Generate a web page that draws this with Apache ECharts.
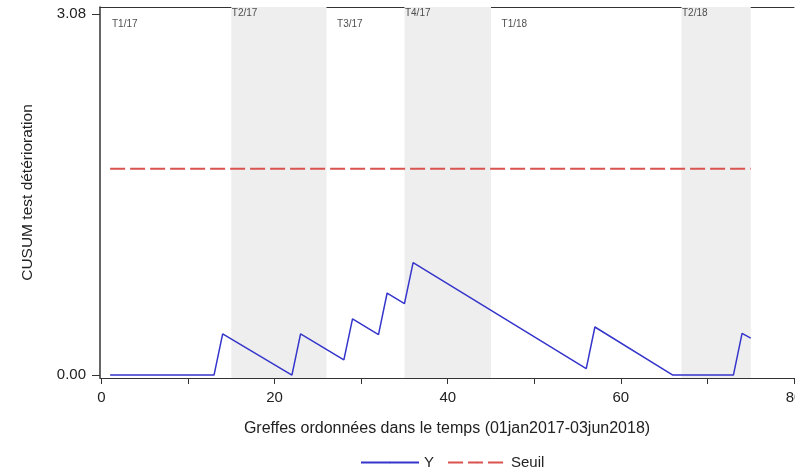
<!DOCTYPE html>
<html>
<head>
<meta charset="utf-8">
<script src="https://cdn.jsdelivr.net/npm/echarts@6/dist/echarts.min.js"></script>
<style>
  html, body { margin: 0; padding: 0; background: #fff; }
  #main { width: 795px; height: 468px; }
</style>
</head>
<body>
<div id="main"></div>
<script>
// CUSUM values at the turning points of the curve (greffe index, value)
const greffeIdx = [1, 13, 14, 22, 23, 28, 29, 32, 33, 35, 36, 56, 57, 66, 73, 74, 75];
const cusumY = [0, 0, 0.352, 0, 0.352, 0.13, 0.48, 0.345, 0.70, 0.61, 0.96, 0.055, 0.41, 0, 0, 0.355, 0.315];

// threshold line
const seuilX = [1, 75];
const seuilY = [1.76, 1.76];

// quarters
const periodLabels = ['T1/17', 'T2/17', 'T3/17', 'T4/17', 'T1/18', 'T2/18'];
const periodStart = [0, 15, 26, 35, 45, 67];
const periodEnd = [15, 26, 35, 45, 67, 75];
const periodShaded = [false, true, false, true, false, true];

const xTicks = [0, 10, 20, 30, 40, 50, 60, 70, 80];
const xTickLabels = [0, 20, 40, 60, 80];
const yTicks = [0, 3.08];

const X_MIN = -0.17, X_MAX = 80;
const Y_MIN = -0.025, Y_MAX = 3.14;
const FONT = 'Liberation Sans, Arial, sans-serif';

const chart = echarts.init(document.getElementById('main'), null, { renderer: 'canvas' });

let bands = [];
let labelPts = [];
for (let i = 0; i < periodLabels.length; i++) {
  if (periodShaded[i]) {
    bands.push([{ xAxis: periodStart[i] }, { xAxis: periodEnd[i] }]);
  }
  labelPts.push({
    value: [periodStart[i], Y_MAX],
    label: { position: periodShaded[i] ? [1, 7] : [11, 18] },
    name: periodLabels[i]
  });
}

const option = {
  animation: false,
  backgroundColor: '#fff',
  grid: {
    left: 100, right: 1, top: 7, bottom: 90,
    containLabel: false,
    outerBoundsMode: 'none'
  },
  legend: {
    data: ['Y', 'Seuil'],
    left: 355, top: 450,
    itemWidth: 58, itemHeight: 2, itemGap: 13,
    textStyle: { fontFamily: FONT, fontSize: 15, color: '#222' }
  },
  xAxis: [
    {
      type: 'value',
      min: X_MIN, max: X_MAX,
      name: 'Greffes ordonnées dans le temps (01jan2017-03jun2018)',
      nameLocation: 'middle', nameGap: 43,
      nameTextStyle: { fontFamily: FONT, fontSize: 16, color: '#222' },
      axisLine: { onZero: false, lineStyle: { color: '#333', width: 1 } },
      axisTick: { customValues: xTicks, length: 6, lineStyle: { color: '#333' } },
      axisLabel: {
        customValues: xTickLabels, margin: 12,
        fontFamily: FONT, fontSize: 15, color: '#222'
      },
      splitLine: { show: false }
    },
    {
      // top frame line only
      type: 'value',
      position: 'top',
      min: X_MIN, max: X_MAX,
      axisLine: { show: true, onZero: false, lineStyle: { color: '#333', width: 1 } },
      axisTick: { show: false },
      axisLabel: { show: false },
      splitLine: { show: false }
    }
  ],
  yAxis: {
    type: 'value',
    min: Y_MIN, max: Y_MAX,
    name: 'CUSUM test détérioration',
    nameLocation: 'middle', nameGap: 64,
    nameTextStyle: { fontFamily: FONT, fontSize: 15.5, color: '#222' },
    axisLine: { show: true, onZero: false, lineStyle: { color: '#333', width: 1.5 } },
    axisTick: { show: true, customValues: yTicks, length: 8, lineStyle: { color: '#333' } },
    axisLabel: {
      customValues: yTicks, margin: 14,
      fontFamily: FONT, fontSize: 15, color: '#222',
      formatter: v => v.toFixed(2)
    },
    splitLine: { show: false }
  },
  series: [
    {
      name: 'bands',
      type: 'line',
      data: [],
      silent: true,
      z: 1,
      markArea: {
        silent: true,
        itemStyle: { color: '#eeeeee' },
        data: bands
      }
    },
    {
      name: 'periods',
      type: 'scatter',
      symbolSize: 1,
      z: 3,
      silent: true,
      itemStyle: { color: 'rgba(0,0,0,0)' },
      label: {
        show: true,
        formatter: p => p.name,
        fontFamily: FONT, fontSize: 10, color: '#222',
        align: 'left', verticalAlign: 'middle'
      },
      data: labelPts
    },
    {
      name: 'Y',
      type: 'line',
      z: 4,
      symbol: 'none',
      lineStyle: { color: '#3535cc', width: 1.5 },
      itemStyle: { color: '#3535cc' },
      data: greffeIdx.map((x, i) => [x, cusumY[i]])
    },
    {
      name: 'Seuil',
      type: 'line',
      z: 4,
      symbol: 'none',
      lineStyle: { color: '#d9534f', width: 2, type: [15, 5] },
      itemStyle: { color: '#d9534f' },
      data: seuilX.map((x, i) => [x, seuilY[i]])
    }
  ]
};

chart.setOption(option);
</script>
</body>
</html>
